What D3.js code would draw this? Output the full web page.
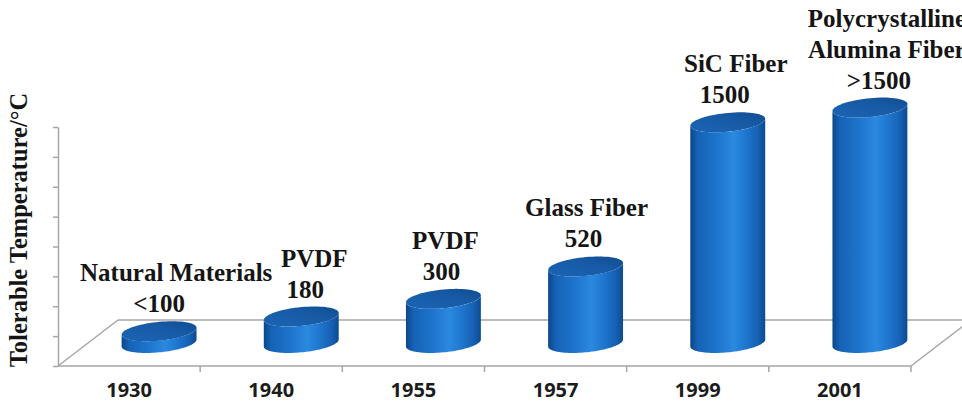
<!DOCTYPE html>
<html>
<head>
<meta charset="utf-8">
<script src="https://cdn.jsdelivr.net/npm/d3@7/dist/d3.min.js"></script>
<style>
  html, body { margin: 0; padding: 0; background: #ffffff; }
  svg { display: block; }
</style>
</head>
<body>
<script>
// ---- data ----
const years = ["1930", "1940", "1955", "1957", "1999", "2001"];
const temps = [80, 180, 300, 520, 1500, 1600];
const valueLabels = ["<100", "180", "300", "520", "1500", ">1500"];
const materials = [
  ["Natural Materials"],
  ["PVDF"],
  ["PVDF"],
  ["Glass Fiber"],
  ["SiC Fiber"],
  ["Polycrystalline", "Alumina Fiber"]
];
const yTicks = [0, 200, 400, 600, 800, 1000, 1200, 1400, 1600];
const axisTitle = "Tolerable Temperature/°C";

// ---- layout ----
const W = 962, H = 401;
const floorLeft = 58, floorRight = 911, floorFront = 366, axisTop = 127;
const depth = { x: 60, y: -46 };          // projected floor depth
const barShrink = 0.985;                 // bars stand mid-depth, slightly farther away
const ellipseH = 10;                     // vertical half-extent of cylinder caps
const nameDx = [0, 13, 2, 1, 8, 17];     // manual label nudges
const valueDx = [0, 4, -2, -2, -3, 9];

const svg = d3.select("body").append("svg")
  .attr("width", W).attr("height", H)
  .style("overflow", "hidden");

const x = d3.scaleBand().domain(years).range([floorLeft, floorRight]).padding(0);
const y = d3.scaleLinear().domain([0, 1600]).range([floorFront, axisTop]);
const bw = x.bandwidth();

// ---- gradients ----
const defs = svg.append("defs");
const sideGrad = defs.append("linearGradient").attr("id", "cylSide")
  .attr("x1", "0%").attr("x2", "100%").attr("y1", "0%").attr("y2", "0%");
[["0%", "#0c4689"], ["10%", "#1662b6"], ["35%", "#1d74cb"], ["58%", "#2a89de"],
 ["72%", "#2079d1"], ["90%", "#1661b4"], ["100%", "#0d4a90"]]
  .forEach(([o, c]) => sideGrad.append("stop").attr("offset", o).attr("stop-color", c));
const capGrad = defs.append("linearGradient").attr("id", "cylTop")
  .attr("x1", "0%").attr("x2", "100%").attr("y1", "100%").attr("y2", "0%");
[["0%", "#1b65b5"], ["60%", "#175aa5"], ["100%", "#114d92"]]
  .forEach(([o, c]) => capGrad.append("stop").attr("offset", o).attr("stop-color", c));

// ---- floor ----
const gridColor = "#a6a6a6";
const floor = svg.append("g").attr("stroke", gridColor).attr("stroke-width", 1.5).attr("fill", "none");
floor.append("line")
  .attr("x1", floorLeft + depth.x).attr("y1", floorFront + depth.y)
  .attr("x2", floorRight + depth.x).attr("y2", floorFront + depth.y);
floor.append("line")
  .attr("x1", floorLeft).attr("y1", floorFront)
  .attr("x2", floorLeft + depth.x).attr("y2", floorFront + depth.y);
floor.append("line")
  .attr("x1", floorRight).attr("y1", floorFront)
  .attr("x2", floorRight + depth.x).attr("y2", floorFront + depth.y);
floor.append("line")
  .attr("x1", floorLeft).attr("y1", floorFront)
  .attr("x2", floorRight).attr("y2", floorFront);
// category separators on the front edge
floor.selectAll("line.sep").data(years).join("line").attr("class", "sep")
  .attr("x1", d => x(d) + bw).attr("x2", d => x(d) + bw)
  .attr("y1", floorFront).attr("y2", floorFront + 6);

// ---- value axis (unlabelled) ----
const yAxis = svg.append("g").attr("transform", `translate(${floorLeft},0)`)
  .call(d3.axisLeft(y).tickValues(yTicks).tickFormat("").tickSize(5).tickSizeOuter(0));
yAxis.selectAll("path, line").attr("stroke", gridColor).attr("stroke-width", 1.5);

// ---- cylinders ----
const u = ellipseH * depth.x / -depth.y;   // depth skew of the caps
const R = Math.sqrt(Math.pow(bw * 0.527 / 2, 2) - u * u);
const theta0 = Math.atan2(u, R);
const pt = (cx, cy, t) => [cx + R * Math.cos(t) + u * Math.sin(t), cy - ellipseH * Math.sin(t)];
const arc = (cx, cy, a, b, n = 48) => d3.range(n + 1).map(i => pt(cx, cy, a + (b - a) * i / n));
const line = d3.line();

const bars = years.map((yr, i) => {
  const cx = x(yr) + bw / 2 + depth.x / 2;
  const cyB = floorFront + depth.y / 2;
  const cyT = cyB - (floorFront - y(temps[i])) * barShrink;
  return { yr, i, cx, cyB, cyT };
});

const gBars = svg.append("g");
bars.forEach(b => {
  const sidePts = [
    ...arc(b.cx, b.cyB, theta0, theta0 - Math.PI),
    ...arc(b.cx, b.cyT, theta0 - Math.PI, theta0)
  ];
  gBars.append("path").attr("d", line(sidePts) + "Z").attr("fill", "url(#cylSide)");
  gBars.append("path").attr("d", line(arc(b.cx, b.cyT, 0, 2 * Math.PI, 72)) + "Z")
    .attr("fill", "url(#cylTop)");
});

// ---- data labels ----
const labelFont = "'Liberation Serif', 'Times New Roman', serif";
const lineGap = 31;
const gLab = svg.append("g")
  .attr("font-family", labelFont).attr("font-weight", "bold")
  .attr("font-size", 25).attr("fill", "#151515").attr("text-anchor", "middle");
bars.forEach(b => {
  const capTop = b.cyT - ellipseH;
  const base = capTop - 9;
  gLab.append("text").attr("x", b.cx + valueDx[b.i]).attr("y", base).text(valueLabels[b.i]);
  const names = materials[b.i];
  names.forEach((nm, k) => {
    const t = gLab.append("text").attr("y", base - lineGap * (names.length - k)).text(nm);
    // keep names inside the plot on the left side
    const w = t.node().getComputedTextLength();
    const cx = Math.max(b.cx + nameDx[b.i], floorLeft + 22 + w / 2);
    t.attr("x", cx);
  });
});

// ---- category labels ----
svg.append("g")
  .attr("font-family", "'Noto Sans', sans-serif").attr("font-weight", 700)
  .attr("font-size", 20).attr("fill", "#1c1c1c").attr("text-anchor", "middle")
  .selectAll("text").data(years).join("text")
  .attr("x", d => x(d) + bw / 2).attr("y", 397).text(d => d);

// ---- axis title ----
svg.append("text")
  .attr("transform", `translate(27,${(90 + 370) / 2}) rotate(-90)`)
  .attr("text-anchor", "middle")
  .attr("font-family", labelFont).attr("font-weight", "bold")
  .attr("font-size", 24.5).attr("fill", "#151515")
  .text(axisTitle);
</script>
</body>
</html>
